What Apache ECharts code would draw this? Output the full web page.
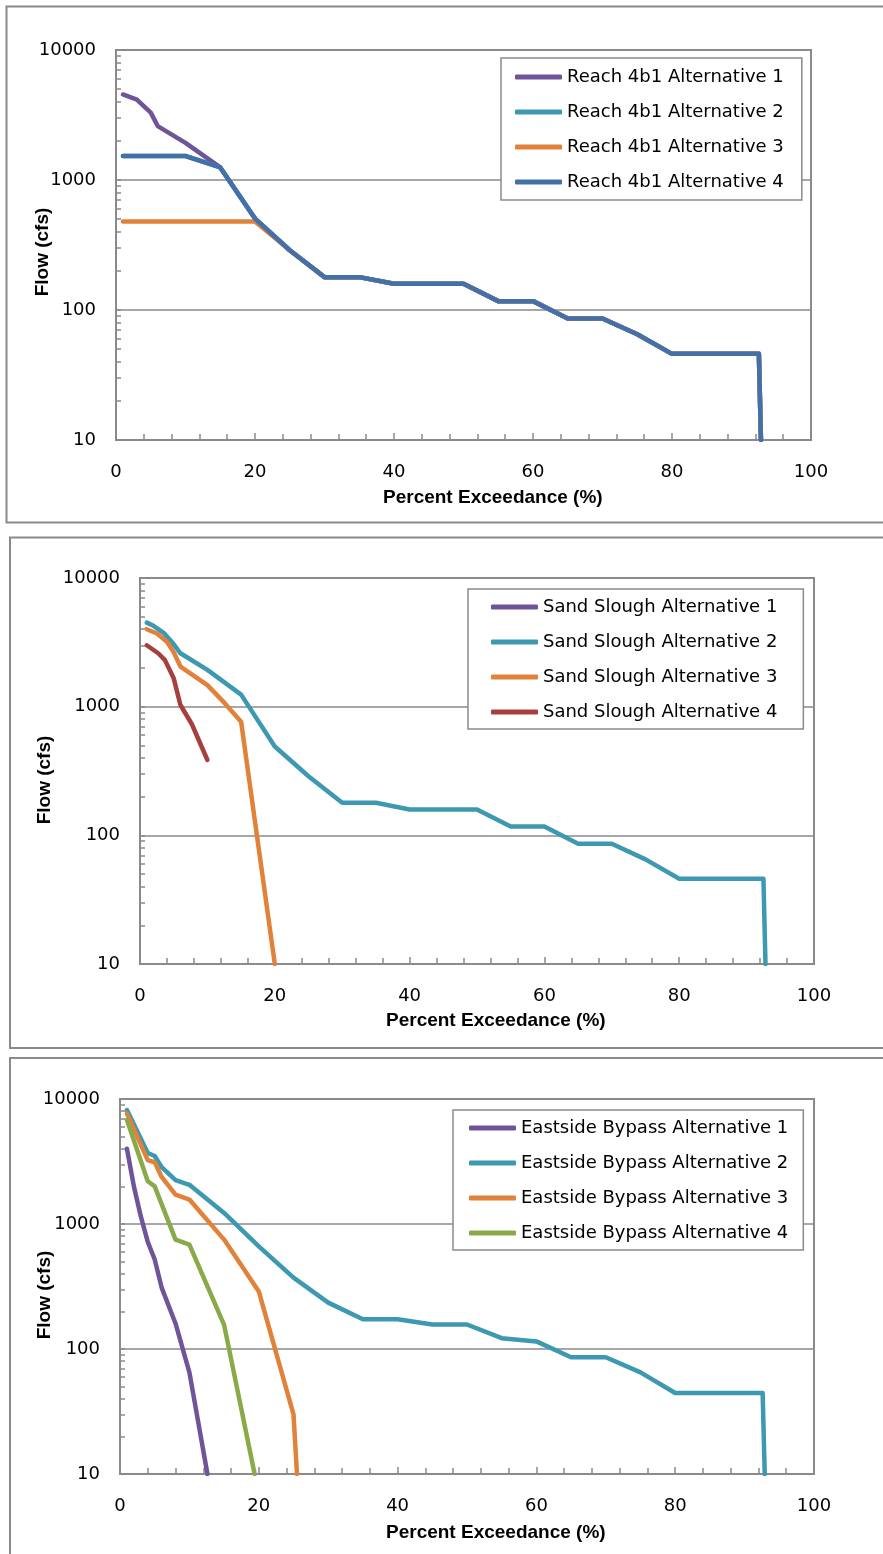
<!DOCTYPE html>
<html>
<head>
<meta charset="utf-8">
<script src="https://cdn.jsdelivr.net/npm/echarts@6/dist/echarts.min.js"></script>
<style>
  html, body { margin: 0; padding: 0; background: #fff; }
  #chart { width: 883px; height: 1554px; }
</style>
</head>
<body>
<div id="chart"></div>
<script>
// ---- data: [percent exceedance, flow (cfs)] ----
var reachNames = ["Reach 4b1 Alternative 1", "Reach 4b1 Alternative 2", "Reach 4b1 Alternative 3", "Reach 4b1 Alternative 4"];
var reachAlt1 = [[1,4550],[3,4150],[5,3300],[6,2600],[10,1930],[15,1250],[20,505],[25,288],[30,179],[35,179],[40,159],[50,159],[55,117],[60,117],[65,86],[70,86],[75,65],[80,46],[92.5,46],[92.8,10]];
var reachAlt2 = [[1,1530],[10,1530],[15,1250],[20,505],[25,288],[30,179],[35,179],[40,159],[50,159],[55,117],[60,117],[65,86],[70,86],[75,65],[80,46],[92.5,46],[92.8,10]];
var reachAlt3 = [[1,480],[20,480],[25,288],[30,179],[35,179],[40,159],[50,159],[55,117],[60,117],[65,86],[70,86],[75,65],[80,46],[92.5,46],[92.8,10]];
var reachAlt4 = [[1,1530],[10,1530],[15,1250],[20,505],[25,288],[30,179],[35,179],[40,159],[50,159],[55,117],[60,117],[65,86],[70,86],[75,65],[80,46],[92.5,46],[92.8,10]];

var sandNames = ["Sand Slough Alternative 1", "Sand Slough Alternative 2", "Sand Slough Alternative 3", "Sand Slough Alternative 4"];
var sandAlt1 = [];
var sandAlt2 = [[1,4500],[2,4250],[3.5,3750],[4.7,3200],[6,2600],[10,1930],[15,1240],[20,490],[25,288],[30,179],[35,179],[40,159],[50,159],[55,117],[60,117],[65,86],[70,86],[75,65],[80,46],[92.5,46],[92.8,10]];
var sandAlt3 = [[1,4000],[2.5,3700],[4,3200],[5,2650],[6,2050],[10,1470],[12.6,1060],[15,765],[20,10]];
var sandAlt4 = [[1,3000],[2.7,2600],[3.7,2300],[5,1660],[6,1030],[7.7,730],[10,385]];

var eastNames = ["Eastside Bypass Alternative 1", "Eastside Bypass Alternative 2", "Eastside Bypass Alternative 3", "Eastside Bypass Alternative 4"];
var eastAlt1 = [[1,4000],[2,2000],[3,1150],[4,720],[5,520],[6,310],[8,160],[10,65],[12.6,10]];
var eastAlt2 = [[1,8150],[4,3700],[5,3500],[6,2850],[8,2240],[10,2060],[15,1225],[20,662],[25,372],[30,235],[35,173],[40,173],[45,157],[50,157],[55,122],[60,115],[65,86],[70,86],[75,65],[80,44.5],[92.6,44.5],[92.9,10]];
var eastAlt3 = [[1,7650],[4,3240],[5,3120],[6,2380],[8,1720],[10,1570],[15,750],[20,289],[25,30],[25.5,10]];
var eastAlt4 = [[1,6800],[4,2200],[5,2000],[8,750],[10,685],[15,156],[19.4,10]];

var xTitle = "Percent Exceedance (%)";
var yTitle = "Flow (cfs)";

// ---- styling ----
var axisGray = "#8a8a8a";
var colorsA = ["#6F5499", "#3D98B1", "#E0823A", "#4470AA"];
var colorsB = ["#6F5499", "#3D98B1", "#E0823A", "#A5403E"];
var colorsC = ["#6F5499", "#3D98B1", "#E0823A", "#8AAA4A"];

var panels = [
  { names: reachNames, data: [reachAlt1, reachAlt2, reachAlt3, reachAlt4], colors: colorsA,
    grid: { left: 116, top: 50, width: 695, height: 390 },
    legend: { left: 501, top: 58, padding: [10, 18, 9, 14] },
    xTitlePos: [383, 488], yTitlePos: [43, 252], box: [6.5, 6.5, 890, 516] },
  { names: sandNames, data: [sandAlt1, sandAlt2, sandAlt3, sandAlt4], colors: colorsB,
    grid: { left: 140, top: 578, width: 674, height: 386 },
    legend: { left: 468, top: 589, padding: [9, 26, 8, 23] },
    xTitlePos: [386, 1011], yTitlePos: [45, 780], box: [10, 537.5, 880, 510.5] },
  { names: eastNames, data: [eastAlt1, eastAlt2, eastAlt3, eastAlt4], colors: colorsC,
    grid: { left: 120, top: 1099, width: 694, height: 375 },
    legend: { left: 453, top: 1110, padding: [9, 15, 8, 16] },
    xTitlePos: [386, 1523], yTitlePos: [45, 1295], box: [10, 1058, 880, 510] }
];

// minor tick positions (2..9 within each decade), in log10 space
var minorTickLogs = [];
[10, 100, 1000].forEach(function (d) {
  for (var k = 2; k <= 9; k++) minorTickLogs.push(Math.log10(d * k));
});

var option = {
  backgroundColor: "#fff",
  animation: false,
  grid: [], xAxis: [], yAxis: [], legend: [], series: [], title: [], graphic: []
};

panels.forEach(function (p, i) {
  option.grid.push({
    left: p.grid.left, top: p.grid.top, width: p.grid.width, height: p.grid.height,
    show: true, borderColor: axisGray, borderWidth: 2, backgroundColor: "transparent"
  });
  option.xAxis.push({
    type: "value", gridIndex: i, min: 0, max: 100, interval: 20,
    axisLine: { onZero: false, lineStyle: { color: axisGray, width: 2 } },
    axisTick: { inside: true, length: 7, lineStyle: { color: axisGray, width: 1.5 } },
    minorTick: { show: true, splitNumber: 5, length: 6, lineStyle: { color: axisGray, width: 1.5 } },
    splitLine: { show: false },
    axisLabel: { margin: 23, color: "#000", fontFamily: "DejaVu Sans", fontSize: 18 }
  });
  option.yAxis.push({
    type: "log", logBase: 10, gridIndex: i, min: 10, max: 10000,
    axisLine: { lineStyle: { color: axisGray, width: 2 } },
    axisTick: { inside: true, length: 5, lineStyle: { color: axisGray, width: 1.5 } },
    splitLine: { show: true, lineStyle: { color: axisGray, width: 1.5 } },
    axisLabel: { margin: 20, color: "#000", fontFamily: "DejaVu Sans", fontSize: 18,
                 formatter: function (v) { return String(Math.round(v)); } }
  });
  option.legend.push({
    orient: "vertical", left: p.legend.left, top: p.legend.top, padding: p.legend.padding,
    data: p.names.map(function (n) { return { name: n, icon: "roundRect" }; }),
    itemWidth: 47, itemHeight: 5, itemGap: 17,
    backgroundColor: "#fff", borderColor: axisGray, borderWidth: 1.5,
    selectedMode: false,
    textStyle: { color: "#000", fontFamily: "DejaVu Sans", fontSize: 18 }
  });
  option.title.push({
    text: xTitle, left: p.xTitlePos[0], top: p.xTitlePos[1], padding: 0,
    textStyle: { fontFamily: "Liberation Sans", fontWeight: "bold", fontSize: 19, color: "#000" }
  });
  option.graphic.push({
    type: "rect", silent: true, z: -10,
    shape: { x: p.box[0], y: p.box[1], width: p.box[2], height: p.box[3] },
    style: { fill: "none", stroke: axisGray, lineWidth: 2 }
  });
  option.graphic.push({
    type: "text", x: p.yTitlePos[0], y: p.yTitlePos[1], rotation: Math.PI / 2,
    style: { text: yTitle, fontFamily: "Liberation Sans", fontWeight: "bold", fontSize: 19,
             fill: "#000", align: "center", verticalAlign: "middle" }
  });
  p.names.forEach(function (name, s) {
    option.series.push({
      name: name, type: "line", xAxisIndex: i, yAxisIndex: i,
      data: p.data[s], symbol: "none", showSymbol: false,
      color: p.colors[s],
      itemStyle: { color: p.colors[s] },
      lineStyle: { width: 4.5, color: p.colors[s], cap: "round", join: "round" }
    });
  });
});

// secondary hidden axes carrying the log-spaced minor ticks
panels.forEach(function (p, i) {
  option.yAxis.push({
    type: "value", gridIndex: i, min: 1, max: 4, position: "left",
    axisLine: { show: false }, axisLabel: { show: false }, splitLine: { show: false },
    axisTick: { show: true, inside: true, length: 5, customValues: minorTickLogs,
                lineStyle: { color: axisGray, width: 1.5 } }
  });
});

var chart = echarts.init(document.getElementById("chart"));
chart.setOption(option);
</script>
</body>
</html>
